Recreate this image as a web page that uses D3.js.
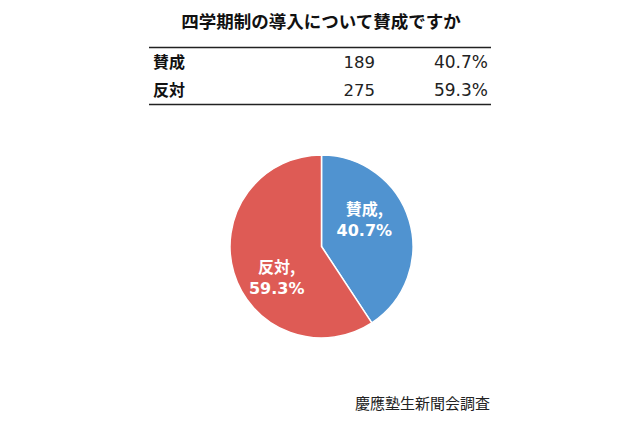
<!DOCTYPE html>
<html><head><meta charset="utf-8">
<script src="https://cdn.jsdelivr.net/npm/d3@7"></script>
<style>
html,body{margin:0;padding:0;background:#fff;}
svg{display:block;}
</style></head>
<body>
<script>
const title = "四学期制の導入について賛成ですか";
const categories = ["賛成", "反対"];
const counts = [189, 275];
const percents = ["40.7%", "59.3%"];
const colors = ["#5093D0", "#DE5B55"];
const source = "慶應塾生新聞会調査";

const W = 640, H = 426;
const svg = d3.select("body").append("svg").attr("width", W).attr("height", H);
const jp = "'Noto Sans CJK JP', 'Noto Sans', sans-serif";
const num = "'DejaVu Sans', 'Noto Sans CJK JP', sans-serif";

svg.append("text").attr("x", 321).attr("y", 28).attr("text-anchor", "middle")
  .attr("font-family", jp).attr("font-weight", "bold").attr("font-size", 17.5)
  .attr("fill", "#111").text(title);

// table
const tx0 = 149, tx1 = 491;
svg.append("line").attr("x1", tx0).attr("x2", tx1).attr("y1", 47.5).attr("y2", 47.5)
  .attr("stroke", "#222").attr("stroke-width", 1.5);
svg.append("line").attr("x1", tx0).attr("x2", tx1).attr("y1", 104.5).attr("y2", 104.5)
  .attr("stroke", "#222").attr("stroke-width", 1.5);
const rowY = d3.scaleBand().domain(categories).range([48, 104]);
categories.forEach((c, i) => {
  const y = rowY(c) + rowY.bandwidth() / 2 + 6;
  svg.append("text").attr("x", 153).attr("y", y).attr("font-family", jp)
    .attr("font-weight", "bold").attr("font-size", 16).attr("fill", "#111").text(c);
  svg.append("text").attr("x", 375).attr("y", y).attr("text-anchor", "end")
    .attr("font-family", num).attr("font-size", 16.5).attr("fill", "#222").text(counts[i]);
  svg.append("text").attr("x", 488).attr("y", y).attr("text-anchor", "end")
    .attr("font-family", num).attr("font-size", 17).attr("fill", "#222").text(percents[i]);
});

// pie
const cx = 321.5, cy = 246.5, R = 91.5;
const pie = d3.pie().sort(null).value(d => d)(counts);
const arc = d3.arc().innerRadius(0).outerRadius(R);
const g = svg.append("g").attr("transform", `translate(${cx},${cy})`);
g.selectAll("path").data(pie).join("path")
  .attr("d", arc).attr("fill", (d, i) => colors[i])
  .attr("stroke", "#fff").attr("stroke-width", 1.5);

const labelArc = d3.arc().innerRadius(R * 0.5).outerRadius(R * 0.5);
const nudge = [-14, 17];
pie.forEach((d, i) => {
  const [x, y] = labelArc.centroid(d);
  const t = g.append("text").attr("text-anchor", "middle").attr("fill", "#fff")
    .attr("font-weight", "bold").attr("font-size", 16);
  t.append("tspan").attr("x", x - 1).attr("y", y + nudge[i] - 4)
    .attr("font-family", jp).text(categories[i] + ",");
  t.append("tspan").attr("x", x - 1).attr("y", y + nudge[i] + 17)
    .attr("font-family", num).text(percents[i]);
});

svg.append("text").attr("x", 490).attr("y", 409).attr("text-anchor", "end")
  .attr("font-family", jp).attr("font-size", 15).attr("fill", "#222").text(source);
</script>
</body></html>
